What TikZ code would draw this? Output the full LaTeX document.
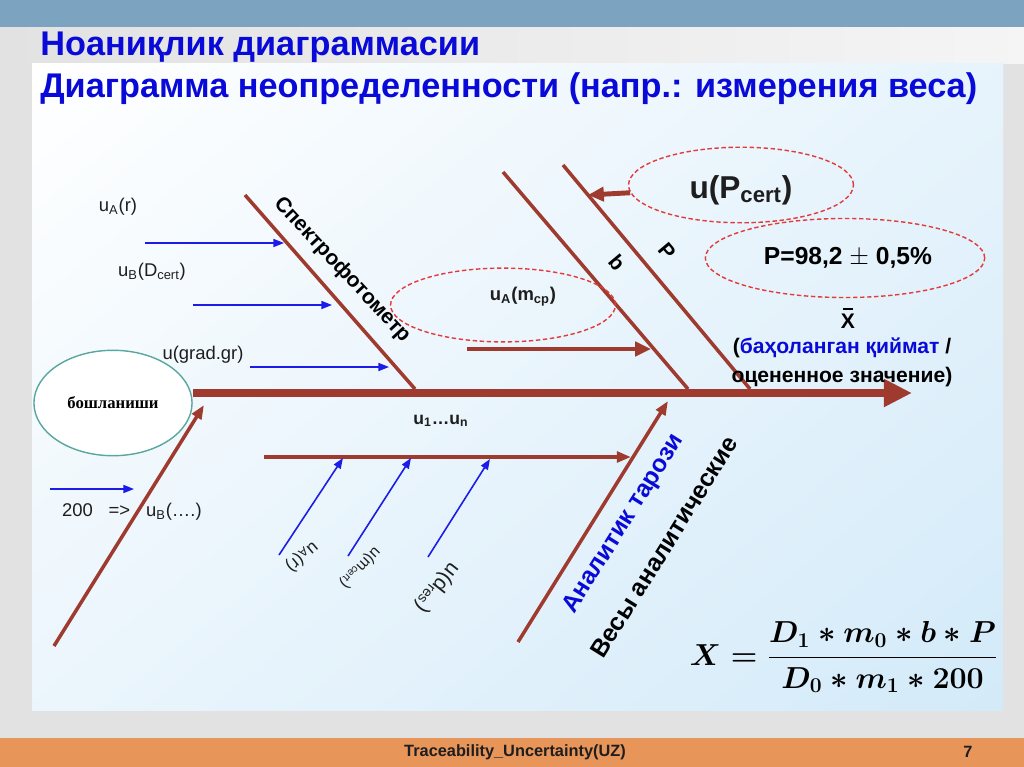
\documentclass[tikz,border=0pt]{standalone}
\usepackage[no-math]{fontspec}
\setmainfont{Liberation Sans}
\newfontfamily\startfont{Liberation Serif}
\usetikzlibrary{arrows.meta,shapes.geometric,shadings}

\definecolor{bonebrown}{HTML}{9E3A2E}
\definecolor{causeblue}{HTML}{1C1CE8}
\definecolor{titleblue}{HTML}{0A0AD8}
\definecolor{cloudred}{HTML}{E33B3B}
\definecolor{startteal}{HTML}{5AA79F}
\definecolor{topbar}{HTML}{7CA4C1}
\definecolor{footerorange}{HTML}{E8955A}
\definecolor{pagegray}{HTML}{E2E2E2}
\definecolor{panelblue}{HTML}{D3EAF9}
\definecolor{textgray}{HTML}{1E1E1E}

\newcommand{\modeleq}{$X=\displaystyle\frac{D_1\ast m_0\ast b\ast P}{D_0\ast m_1\ast 200}$}
\newcommand{\meanx}{\rlap{\hspace{1.2pt}\rule[10.6pt]{5.8pt}{1.1pt}}X}

\begin{document}
\begin{tikzpicture}[
    x=0.02cm, y=-0.02cm,
    spine_style/.style={draw=bonebrown, line width=4pt, -{Triangle[length=16pt, width=15pt]}},
    bone_style/.style={draw=bonebrown, line width=2pt},
    bone_arrow_style/.style={bone_style, -{Triangle[length=8pt, width=6pt]}},
    heavy_arrow_style/.style={draw=bonebrown, line width=2.8pt, -{Triangle[length=9pt, width=8pt]}},
    cause_style/.style={draw=causeblue, line width=0.9pt, -{Triangle[length=6pt, width=4.5pt]}},
    cloud_style/.style={draw=cloudred, dash pattern=on 2.5pt off 1.5pt, line width=0.8pt, ellipse, inner sep=0pt},
    start_style/.style={draw=startteal, fill=white, line width=0.8pt, ellipse, inner sep=0pt,
        minimum width=90pt, minimum height=60pt, font=\startfont\bfseries\fontsize{9.5}{11}\selectfont},
    cause_label_style/.style={text=textgray, font=\fontsize{10.5}{12}\selectfont, inner sep=1pt},
    bone_label_style/.style={font=\bfseries\fontsize{12}{14}\selectfont, inner sep=1pt},
    result_style/.style={font=\bfseries\fontsize{12}{14}\selectfont, inner sep=1pt},
    scale_label_style/.style={font=\bfseries\fontsize{14}{16}\selectfont, rotate=58, inner sep=1pt},
    title_style/.style={text=titleblue, font=\bfseries\fontsize{19.5}{22}\selectfont, inner sep=0pt, anchor=base west}
  ]

  % background of the slide
  \useasboundingbox (0,0) rectangle (1024,767);
  \fill[pagegray] (0,0) rectangle (1024,767);
  \fill[topbar] (0,0) rectangle (1024,28);
  \shade[left color=pagegray, right color=gray!8] (0,28) rectangle (1024,64);
  \shade[upper left=white, upper right=panelblue!55!white, lower left=panelblue!45!white,
    lower right=panelblue] (32,64) rectangle (1003,710);
  \fill[footerorange] (0,738) rectangle (1024,767);

  \node[title_style] (title_uz) at (40,56) {Ноаниқлик диаграммасии};
  \node[title_style] (title_ru) at (40,97) {Диаграмма неопределенности (напр.: измерения веса)};

  % head and spine
  \node[start_style] (start) at (113,403) {бошланиши};
  \coordinate (spine_end) at (912,393);
  \draw[spine_style] (start.east |- spine_end) -- (spine_end);

  % upper bones
  \coordinate (b1_top) at (245,195);
  \coordinate (b1_end) at (415,389);
  \coordinate (b2_top) at (503,172);
  \coordinate (b2_end) at (688,389);
  \coordinate (b3_top) at (563,165);
  \coordinate (b3_end) at (750,389);
  \draw[bone_style] (b1_top) -- (b1_end);
  \draw[bone_style] (b2_top) -- (b2_end);
  \draw[bone_style] (b3_top) -- (b3_end);
  \node[bone_label_style, rotate=-47] (spectro) at (342,270) {Спектрофотометр};
  \node[bone_label_style, rotate=-50] (b_lbl) at (617,263) {b};
  \node[bone_label_style, rotate=-50] (p_lbl) at (667,251) {P};

  % causes of the spectrophotometer
  \coordinate (ua_r_from) at (145,243);
  \coordinate (ua_r_to) at (284,243);
  \coordinate (ub_d_from) at (193,305);
  \coordinate (ub_d_to) at (332,305);
  \coordinate (u_grad_from) at (250,367);
  \coordinate (u_grad_to) at (389,367);
  \draw[cause_style] (ua_r_from) -- (ua_r_to);
  \draw[cause_style] (ub_d_from) -- (ub_d_to);
  \draw[cause_style] (u_grad_from) -- (u_grad_to);
  \node[cause_label_style] (ua_r) at (118,207) {u\textsubscript{A}(r)};
  \node[cause_label_style] (ub_d) at (152,272) {u\textsubscript{B}(D\textsubscript{cert})};
  \node[cause_label_style] (u_grad) at (203,355) {u(grad.gr)};

  % dashed clouds
  \node[cloud_style, minimum width=128pt, minimum height=42pt] (mcp_cloud) at (503,305) {};
  \node[text=textgray, font=\bfseries\fontsize{10.5}{12}\selectfont] (mcp_lbl) at (523,297) {u\textsubscript{A}(m\textsubscript{cp})};
  \coordinate (mcp_from) at (467,349);
  \coordinate (mcp_to) at (651,349);
  \draw[heavy_arrow_style] (mcp_from) -- (mcp_to);

  \node[cloud_style, minimum width=128pt, minimum height=43pt] (pcert_cloud) at (741,185) {};
  \node[text=textgray, font=\bfseries\fontsize{18}{20}\selectfont] (pcert_lbl) at (741,190) {u(P\textsubscript{cert})};
  \coordinate (pcert_to) at (588,195);
  \draw[heavy_arrow_style] (pcert_cloud.184) -- (pcert_to);

  \node[cloud_style, minimum width=159pt, minimum height=45pt] (pval_cloud) at (845,258) {};
  \node[font=\bfseries\fontsize{14}{16}\selectfont] (pval_lbl) at (848,258) {P=98,2 $\pm$ 0,5\%};

  % estimated value
  \node[result_style] (xbar) at (848,318) {\meanx};
  \node[result_style] (est_uz) at (842,348) {(\textcolor{titleblue}{баҳоланган қиймат} /};
  \node[result_style] (est_ru) at (842,377) {оцененное значение)};

  % lower bones
  \node[font=\bfseries\fontsize{10}{12}\selectfont, text=textgray] (u_series) at (441,421) {u\textsubscript{1}…u\textsubscript{n}};
  \coordinate (lower_from) at (264,457);
  \coordinate (lower_to) at (631,457);
  \draw[bone_arrow_style] (lower_from) -- (lower_to);
  \coordinate (scale_foot) at (518,642);
  \coordinate (scale_tip) at (668,401);
  \draw[bone_arrow_style] (scale_foot) -- (scale_tip);
  \node[scale_label_style, text=titleblue] (scale_uz) at (624,524) {Аналитик тарози};
  \node[scale_label_style] (scale_ru) at (664,547) {Весы аналитические};

  \coordinate (calib_foot) at (54,646);
  \coordinate (calib_tip) at (204,405);
  \draw[bone_arrow_style] (calib_foot) -- (calib_tip);
  \coordinate (c200_from) at (50,489);
  \coordinate (c200_to) at (134,489);
  \draw[cause_style] (c200_from) -- (c200_to);
  \node[cause_label_style, anchor=west] (c200) at (60,512) {200\hspace{9pt}=>\hspace{9pt}u\textsubscript{B}(….)};

  % causes of the balance
  \coordinate (lr_from) at (279,555);
  \coordinate (lr_to) at (343,458);
  \coordinate (lm_from) at (348,556);
  \coordinate (lm_to) at (411,458);
  \coordinate (ld_from) at (428,557);
  \coordinate (ld_to) at (490,459);
  \draw[cause_style] (lr_from) -- (lr_to);
  \draw[cause_style] (lm_from) -- (lm_to);
  \draw[cause_style] (ld_from) -- (ld_to);
  \node[cause_label_style, font=\fontsize{10}{12}\selectfont, rotate=-140] (lr_lbl) at (302,557) {u\textsubscript{A}(r)};
  \node[cause_label_style, font=\fontsize{9}{11}\selectfont, rotate=-134] (lm_lbl) at (360,568) {u(m\textsubscript{cert})};
  \node[cause_label_style, font=\fontsize{12}{14}\selectfont, rotate=-128] (ld_lbl) at (437,588) {u(d\textsubscript{res})};

  % model equation
  \node[font=\fontsize{18}{21}\selectfont\boldmath] (model_eq) at (844,657) {\modeleq};

  % footer
  \node[text=textgray, font=\bfseries\fontsize{9.3}{11}\selectfont] (footer) at (515,752) {Traceability\_Uncertainty(UZ)};
  \node[text=textgray, font=\bfseries\fontsize{9.3}{11}\selectfont] (page_no) at (968,752) {7};
\end{tikzpicture}
\end{document}
